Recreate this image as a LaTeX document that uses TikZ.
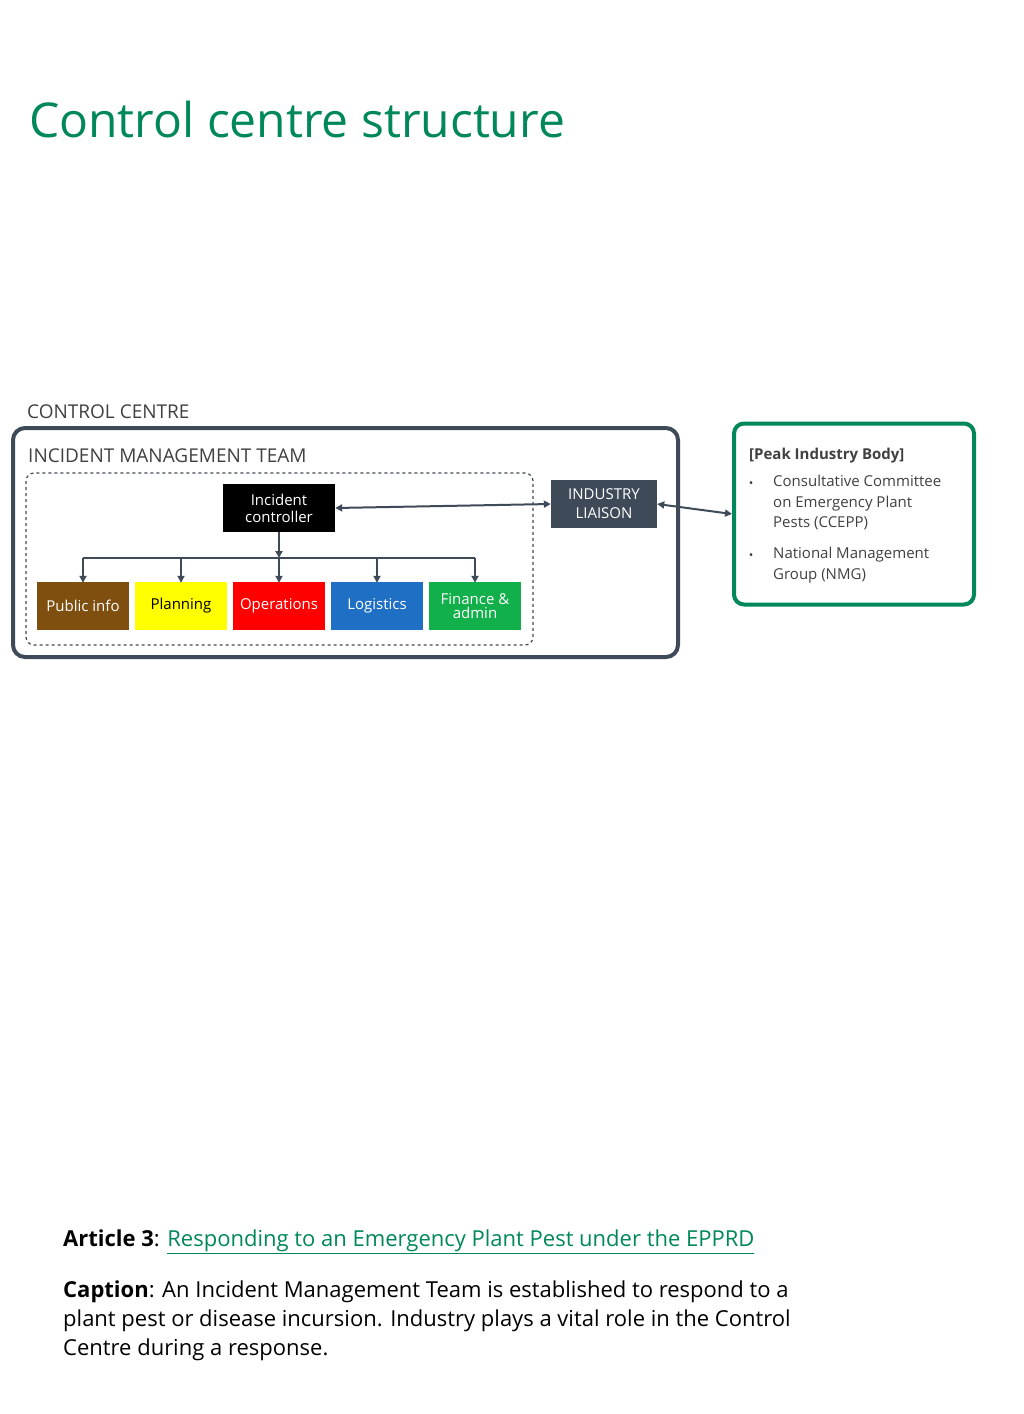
\documentclass[tikz,border=0pt]{standalone}
\usepackage{fontspec}
\setmainfont{Open Sans}
\usetikzlibrary{arrows.meta}
\definecolor{tgreen}{HTML}{00875A}
\definecolor{slate}{HTML}{3F4A59}
\definecolor{tgray}{HTML}{404040}
\definecolor{cbrown}{HTML}{7F4F0F}
\definecolor{cyellow}{HTML}{FFFF00}
\definecolor{cred}{HTML}{FF0000}
\definecolor{cblue}{HTML}{1F6FC5}
\definecolor{cgreen}{HTML}{12B04A}
\tikzset{
 unit/.style={draw=none,minimum width=92pt,minimum height=48pt,inner sep=1pt,align=center,font=\fontsize{15}{16}\selectfont},
 conn/.style={draw=slate,line width=2pt,-{Triangle[length=7pt,width=7pt]}},
 dconn/.style={draw=slate,line width=2pt,{Triangle[length=7pt,width=7pt]}-{Triangle[length=7pt,width=7pt]}},
 lbl/.style={anchor=base west,inner sep=0pt,text=tgray}
}
\begin{document}
\begin{tikzpicture}[x=1pt,y=-1pt]
\useasboundingbox (0,0) rectangle (1024,1414);
\node[anchor=base west,inner sep=0pt,text=tgreen,font=\fontsize{48}{52}\selectfont] (title) at (29,137) {Control centre structure};
\node[lbl,font=\fontsize{19}{22}\selectfont] (cc) at (27,418) {CONTROL CENTRE};
\draw[slate,line width=4pt,rounded corners=12pt] (13,428) rectangle (678,657);
\node[lbl,font=\fontsize{19}{22}\selectfont] (imt) at (28,462) {INCIDENT MANAGEMENT TEAM};
\draw[slate,line width=1.2pt,dashed,rounded corners=8pt] (26,473) rectangle (533,645);
\node[fill=black,text=white,minimum width=112pt,minimum height=48pt,align=center,inner sep=1pt,font=\fontsize{15}{17}\selectfont] (ic) at (279,508) {Incident\\controller};
\node[fill=slate,text=white,minimum width=106pt,minimum height=48pt,align=center,inner sep=1pt,font=\fontsize{15}{19}\selectfont] (il) at (604,504) {INDUSTRY\\LIAISON};
\node[draw=tgreen,line width=4pt,rounded corners=10pt,minimum width=240pt,minimum height=181pt] (pib) at (854,514) {};
\node[anchor=base west,inner sep=0pt,text=tgray,font=\bfseries\fontsize{15}{18}\selectfont] (pt) at (749,459) {[Peak Industry Body]};
\node[anchor=north west,inner sep=0pt,text=tgray,align=left,font=\fontsize{15}{20.5}\selectfont] (b1) at (773,475) {Consultative Committee\\on Emergency Plant\\Pests (CCEPP)};
\node[anchor=north west,inner sep=0pt,text=tgray,align=left,font=\fontsize{15}{20.5}\selectfont] (b2) at (773,547) {National Management\\Group (NMG)};
\node[text=tgray,inner sep=0pt,font=\fontsize{12}{12}\selectfont] (d1) at (751,485) {•};
\node[text=tgray,inner sep=0pt,font=\fontsize{12}{12}\selectfont] (d2) at (751,557) {•};
\node[unit,fill=cbrown,text=white] (u1) at (83,606) {Public info};
\node[unit,fill=cyellow,text=black] (u2) at (181,606) {Planning};
\node[unit,fill=cred,text=white] (u3) at (279,606) {Operations};
\node[unit,fill=cblue,text=white] (u4) at (377,606) {Logistics};
\node[unit,fill=cgreen,text=white] (u5) at (475,606) {Finance \&\\[-2pt]admin};
\coordinate (hb) at (279,558);
\draw[dconn] (ic.east) -- (il.west);
\draw[dconn] (il.east) -- (pib.west);
\draw[conn] (ic.south) -- (hb);
\draw[slate,line width=2pt] (u1.north|-hb) -- (u5.north|-hb);
\foreach \u in {u1,u2,u3,u4,u5} \draw[conn] (\u.north|-hb) -- ([yshift=-1pt]\u.north);
\node[anchor=base west,inner sep=0pt,font=\fontsize{22}{26}\selectfont] (art) at (63,1246) {\textbf{Article 3}: \textcolor{tgreen}{\underline{Responding to an Emergency Plant Pest under the EPPRD}}};
\node[anchor=north west,inner sep=0pt,align=left,font=\fontsize{22}{29}\selectfont] (cap) at (63,1281) {\textbf{Caption}: An Incident Management Team is established to respond to a\\plant pest or disease incursion. Industry plays a vital role in the Control\\Centre during a response.};
\end{tikzpicture}
\end{document}
